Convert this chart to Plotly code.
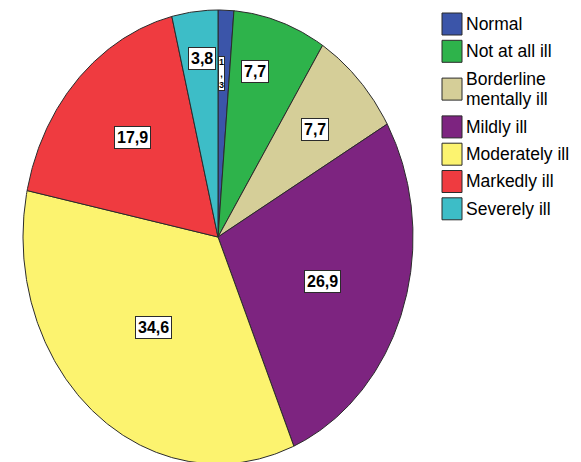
import numpy as np
import plotly.graph_objects as go

# --- data -------------------------------------------------------------
categories = ["Normal", "Not at all ill", "Borderline\nmentally ill", "Mildly ill",
              "Moderately ill", "Markedly ill", "Severely ill"]
percentages = [1.3, 7.7, 7.7, 26.9, 34.6, 17.9, 3.8]

# --- styling ----------------------------------------------------------
colors = ["#3B55A9", "#2EB34B", "#D5CE98", "#7D2480", "#FCF36F", "#EF3B40", "#3DBDC7"]
edge = "#2b2b2b"
W, H = 581, 462
CX, CY = 218, 237          # pie centre in pixels
RX, RY = 195, 227          # horizontal / vertical radius in pixels
label_r = [0.72, 0.755, 0.685, 0.573, 0.518, 0.62, 0.79]
label_nudge_deg = [-1, -4, 0, 1.5, 0, 1, 1]

fig = go.Figure()

total = sum(percentages)
cum = np.concatenate([[0.0], np.cumsum(percentages)]) / total

# slices: unit-circle wedges, clockwise from 12 o'clock
for i, (name, col) in enumerate(zip(categories, colors)):
    a0, a1 = 2 * np.pi * cum[i], 2 * np.pi * cum[i + 1]
    n = max(int((a1 - a0) / (2 * np.pi) * 720), 4)
    t = np.linspace(a0, a1, n)
    xs = np.concatenate([[0.0], np.sin(t), [0.0]])
    ys = np.concatenate([[0.0], np.cos(t), [0.0]])
    fig.add_trace(go.Scatter(
        x=xs, y=ys, mode="lines", fill="toself", fillcolor=col,
        line=dict(color=edge, width=1), name=name.replace("\n", " "),
        showlegend=False, hoverinfo="skip"))

# value labels in boxes
for i, v in enumerate(percentages):
    mid = np.pi * (cum[i] + cum[i + 1]) + np.radians(label_nudge_deg[i])
    txt = f"{v:.1f}".replace(".", ",")
    small = v < 2
    if small:
        txt = "<br>".join(list(txt))
    fig.add_annotation(
        x=label_r[i] * np.sin(mid), y=label_r[i] * np.cos(mid),
        xref="x", yref="y", text=txt, showarrow=False,
        font=dict(family="Liberation Sans, Arial", size=9 if small else 16,
                  color="black", weight="bold"),
        bgcolor="white", bordercolor=edge, borderwidth=1,
        borderpad=0 if small else 2)

# legend drawn in pixel space
def px(x):
    return x / W

def py(y):
    return 1 - y / H

row_single, row_extra = 27.3, 21.0
line_gap = 20
yc = 24.0
prev_h = None
for name, col in zip(categories, colors):
    lines = name.split("\n")
    h = row_single + row_extra * (len(lines) - 1)
    if prev_h is not None:
        yc += prev_h / 2 + h / 2
    prev_h = h
    fig.add_shape(type="rect", xref="paper", yref="paper",
                  x0=px(442), x1=px(462), y0=py(yc - 11), y1=py(yc + 11),
                  fillcolor=col, line=dict(color=edge, width=1))
    for k, ln in enumerate(lines):
        off = (k - (len(lines) - 1) / 2) * line_gap
        fig.add_annotation(
            x=px(464), y=py(yc + off), xref="paper", yref="paper",
            text=ln, showarrow=False, xanchor="left", yanchor="middle",
            font=dict(family="Liberation Sans, Arial", size=17.5, color="black"))

fig.update_xaxes(range=[-CX / RX, (W - CX) / RX], visible=False, fixedrange=True)
fig.update_yaxes(range=[-(H - CY) / RY, CY / RY], visible=False, fixedrange=True)
fig.update_layout(
    width=W, height=H, autosize=False,
    margin=dict(l=0, r=0, t=0, b=0),
    paper_bgcolor="white", plot_bgcolor="white",
    showlegend=False, hovermode=False)

fig.write_html("out.html")
